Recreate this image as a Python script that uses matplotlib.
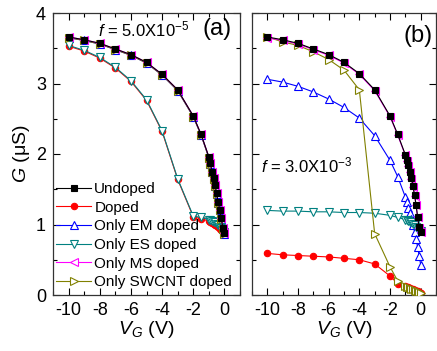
import matplotlib
matplotlib.use('Agg')
import matplotlib.pyplot as plt
from matplotlib.ticker import MultipleLocator

plt.rcParams['font.family'] = ['Liberation Sans', 'DejaVu Sans']
plt.rcParams['mathtext.fontset'] = 'custom'
plt.rcParams['mathtext.rm'] = 'Liberation Sans'
plt.rcParams['mathtext.it'] = 'Liberation Sans:italic'
plt.rcParams['axes.unicode_minus'] = False

# gate voltage (V)
vg = [-10, -9, -8, -7, -6, -5, -4, -3, -2, -1.5,
      -1.0, -0.9, -0.8, -0.7, -0.6, -0.5, -0.4, -0.3, -0.2, -0.1, 0.0]

# panel (a), f = 5.0X10^-5
a_undoped = [3.66, 3.62, 3.57, 3.49, 3.41, 3.30, 3.13, 2.91, 2.54, 2.28,
             1.96, 1.87, 1.75, 1.66, 1.56, 1.44, 1.32, 1.21, 1.09, 0.95, 0.88]
a_doped = [3.53, 3.46, 3.36, 3.22, 3.03, 2.76, 2.32, 1.64, 1.11, 1.08,
           1.05, 1.04, 1.02, 1.01, 0.99, 0.98, 0.96, 0.94, 0.92, 0.90, 0.87]
a_em = [3.65, 3.61, 3.56, 3.48, 3.40, 3.29, 3.12, 2.90, 2.53, 2.27,
        1.95, 1.86, 1.74, 1.65, 1.55, 1.43, 1.31, 1.20, 1.08, 0.94, 0.87]
a_es = [3.54, 3.47, 3.37, 3.23, 3.04, 2.77, 2.33, 1.65, 1.12, 1.10,
        1.07, 1.06, 1.05, 1.04, 1.03, 1.01, 0.99, 0.97, 0.95, 0.92, 0.89]
a_ms = [3.66, 3.62, 3.57, 3.49, 3.41, 3.30, 3.13, 2.91, 2.54, 2.28,
        1.96, 1.87, 1.75, 1.66, 1.56, 1.44, 1.32, 1.21, 1.09, 0.95, 0.88]
a_swcnt = [3.65, 3.61, 3.56, 3.48, 3.40, 3.29, 3.12, 2.90, 2.53, 2.27,
           1.95, 1.86, 1.74, 1.65, 1.55, 1.43, 1.31, 1.20, 1.08, 0.94, 0.87]

# panel (b), f = 3.0X10^-3
b_undoped = [3.66, 3.62, 3.57, 3.49, 3.41, 3.30, 3.14, 2.91, 2.54, 2.28,
             1.99, 1.91, 1.84, 1.75, 1.66, 1.54, 1.42, 1.28, 1.11, 0.96, 0.90]
b_doped = [0.59, 0.57, 0.56, 0.55, 0.54, 0.52, 0.50, 0.44, 0.27, 0.16,
           0.13, 0.12, 0.11, 0.10, 0.09, 0.08, 0.07, 0.06, 0.05, 0.04, 0.03]
b_em = [3.06, 3.02, 2.96, 2.88, 2.78, 2.66, 2.51, 2.26, 1.91, 1.68,
        1.39, 1.32, 1.24, 1.16, 1.08, 0.99, 0.90, 0.80, 0.68, 0.56, 0.43]
b_es = [1.20, 1.19, 1.19, 1.18, 1.18, 1.17, 1.17, 1.16, 1.13, 1.10,
        1.07, 1.06, 1.05, 1.04, 1.03, 1.01, 0.99, 0.97, 0.95, 0.93, 0.91]
b_ms = [3.65, 3.61, 3.56, 3.48, 3.40, 3.29, 3.13, 2.90, 2.53, 2.27,
        1.98, 1.90, 1.83, 1.74, 1.65, 1.53, 1.41, 1.27, 1.10, 0.95, 0.89]
b_swcnt = [3.66, 3.59, 3.54, 3.45, 3.34, 3.19, 2.91, 0.87, 0.40, 0.20,
           0.13, 0.12, 0.11, 0.10, 0.09, 0.08, 0.07, 0.06, 0.05, 0.04, 0.03]

labels = ['Undoped', 'Doped', 'Only EM doped', 'Only ES doped',
          'Only MS doped', 'Only SWCNT doped']
colors = ['black', '#ff0000', '#0000ff', '#008080', '#ff00ff', '#808000']
markers = ['s', 'o', '^', 'v', '<', '>']
zorders = [7, 2, 3, 4, 6, 5]

fig = plt.figure(figsize=(4.37, 3.51), dpi=100)
ax1 = fig.add_axes([53 / 437, 56 / 351, 187 / 437, 282 / 351])
ax2 = fig.add_axes([252 / 437, 56 / 351, 184 / 437, 282 / 351])

panels = [
    (ax1, [a_undoped, a_doped, a_em, a_es, a_ms, a_swcnt]),
    (ax2, [b_undoped, b_doped, b_em, b_es, b_ms, b_swcnt]),
]

for ax, series in panels:
    for g, lab, c, m, z in zip(series, labels, colors, markers, zorders):
        filled = m in ('s', 'o')
        ax.plot(vg, g, color=c, marker=m, lw=0.8, label=lab, zorder=z,
                markersize=4.6 if filled else 5.3, mew=0.8,
                markerfacecolor=c if filled else 'white')
    ax.set_xlim(-11, 1)
    ax.set_ylim(0, 4)
    ax.xaxis.set_major_locator(MultipleLocator(2))
    ax.xaxis.set_minor_locator(MultipleLocator(1))
    ax.yaxis.set_major_locator(MultipleLocator(1))
    ax.yaxis.set_minor_locator(MultipleLocator(0.5))
    ax.tick_params(which='both', direction='in', top=True, right=True,
                   labelsize=13, width=0.8)
    ax.tick_params(which='major', length=5, pad=5)
    ax.tick_params(which='minor', length=3)
    ax.set_xlabel(r'$V_G$ (V)', fontsize=14, labelpad=0)
    for s in ax.spines.values():
        s.set_linewidth(0.9)
        s.set_color('#333333')

ax2.tick_params(labelleft=False)
ax1.set_ylabel(r'$G$ (μS)', fontsize=14, labelpad=3)

ax1.text(0.24, 0.94, r'$f$ = 5.0X10$^{\mathrm{-5}}$', transform=ax1.transAxes,
         fontsize=12, va='center', ha='left')
ax1.text(0.875, 0.945, '(a)', transform=ax1.transAxes, fontsize=17,
         va='center', ha='center')
ax2.text(0.05, 0.46, r'$f$ = 3.0X10$^{\mathrm{-3}}$', transform=ax2.transAxes,
         fontsize=12, va='center', ha='left')
ax2.text(0.905, 0.918, '(b)', transform=ax2.transAxes, fontsize=17,
         va='center', ha='center')

ax1.legend(loc='lower left', bbox_to_anchor=(0.0, 0.01), frameon=False,
           fontsize=11, handlelength=2.3, handletextpad=0.2,
           labelspacing=0.3, borderpad=0.1, borderaxespad=0.1)

plt.savefig('out.png', dpi=100)
